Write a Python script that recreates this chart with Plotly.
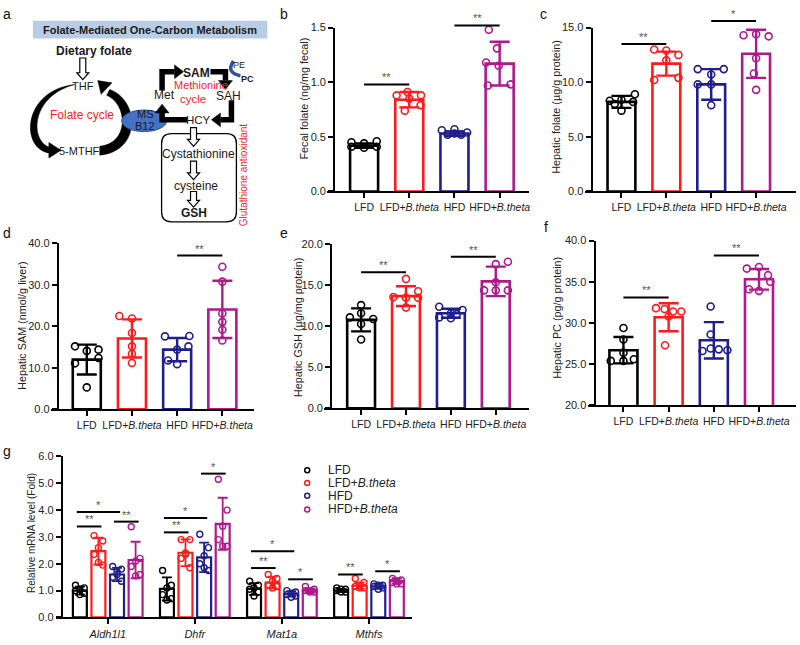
import math
import plotly.graph_objects as go

W, H = 800, 645
FONT = "Liberation Sans, Arial, Helvetica, sans-serif"
INK = "#1a1a1a"

GROUPS = ["LFD", "LFD+<i>B.theta</i>", "HFD", "HFD+<i>B.theta</i>"]
COLORS = ["#000000", "#ff1a1a", "#1e1e8c", "#b0188c"]

# ---------------- data ----------------
# b  fecal folate
FECAL_MEAN = [0.42, 0.84, 0.53, 1.17]
FECAL_SD = [0.02, 0.07, 0.02, 0.20]
FECAL_PTS = [[0.45, 0.44, 0.46, 0.41, 0.41, 0.40],
             [0.88, 0.91, 0.88, 0.85, 0.79, 0.74],
             [0.56, 0.57, 0.54, 0.52, 0.52, 0.53],
             [1.48, 1.31, 1.18, 1.15, 0.97, 0.98]]
FECAL_SIG = [(0, 1, 0.98, "**"), (2, 3, 1.52, "**")]
FECAL_TICKS = [0.0, 0.5, 1.0, 1.5]

# c  hepatic folate
HFOL_MEAN = [8.2, 11.7, 9.8, 12.6]
HFOL_SD = [0.55, 1.1, 1.4, 2.2]
HFOL_PTS = [[8.9, 8.3, 8.4, 8.2, 7.4, 8.0],
            [13.0, 12.9, 12.5, 12.0, 10.2, 10.4],
            [11.2, 11.2, 10.7, 9.8, 9.8, 7.9],
            [14.3, 14.4, 14.2, 12.2, 10.8, 9.3]]
HFOL_SIG = [(0, 1, 13.5, "**"), (2, 3, 15.6, "*")]
HFOL_TICKS = [0, 5, 10, 15]

# d  hepatic SAM
SAM_MEAN = [12.0, 17.1, 14.4, 24.1]
SAM_SD = [3.6, 4.6, 2.8, 6.9]
SAM_PTS = [[15.2, 14.1, 14.4, 11.1, 12.4, 5.3],
           [22.5, 21.9, 18.4, 15.2, 13.4, 11.2],
           [17.6, 17.7, 15.2, 14.4, 10.9, 11.8],
           [34.4, 30.8, 23.1, 21.1, 19.2, 16.6]]
SAM_SIG = [(2, 3, 37.1, "**")]
SAM_TICKS = [0, 10, 20, 30, 40]

# e  hepatic GSH
GSH_MEAN = [10.8, 13.7, 11.6, 15.5]
GSH_SD = [1.4, 1.2, 0.55, 1.8]
GSH_PTS = [[12.6, 11.6, 11.1, 10.9, 10.3, 8.4],
           [15.8, 14.3, 13.6, 13.5, 13.5, 12.3],
           [12.4, 12.0, 11.6, 11.1, 11.0, 11.5],
           [17.6, 17.9, 15.4, 14.4, 14.4, 14.4]]
GSH_SIG = [(0, 1, 16.6, "**"), (2, 3, 18.5, "**")]
GSH_TICKS = [0, 5, 10, 15, 20]

# f  hepatic PC
PC_MEAN = [26.7, 30.7, 27.9, 35.3]
PC_SD = [1.6, 1.7, 2.2, 1.25]
PC_PTS = [[29.4, 28.0, 26.4, 25.4, 25.4, 25.6],
          [31.8, 31.7, 31.4, 31.4, 30.8, 27.3],
          [32.0, 28.6, 26.6, 26.9, 26.8, 26.7],
          [36.6, 36.8, 35.8, 35.0, 33.9, 34.1]]
PC_SIG = [(0, 1, 33.1, "**"), (2, 3, 38.2, "**")]
PC_TICKS = [20, 25, 30, 35, 40]

# g  relative mRNA
GENES = ["<i>Aldh1l1</i>", "<i>Dhfr</i>", "<i>Mat1a</i>", "<i>Mthfs</i>"]
G_MEAN = [[1.00, 1.06, 1.06, 1.00],
          [2.47, 2.41, 1.30, 1.18],
          [1.60, 2.24, 0.88, 1.16],
          [2.14, 3.49, 1.00, 1.36]]
G_SD = [[0.15, 0.43, 0.22, 0.06],
        [0.50, 0.50, 0.22, 0.12],
        [0.25, 0.55, 0.10, 0.10],
        [0.68, 0.97, 0.08, 0.10]]
G_PTS = [
    [[1.20, 1.10, 1.05, 1.00, 0.90, 0.85], [1.75, 1.20, 1.10, 0.85, 0.70, 0.65],
     [1.35, 1.20, 1.10, 1.05, 0.95, 0.80], [1.10, 1.05, 1.05, 1.00, 0.95, 0.95]],
    [[3.05, 2.85, 2.60, 2.35, 1.95, 2.05], [2.90, 2.90, 2.35, 2.20, 1.85, 2.40],
     [1.60, 1.45, 1.35, 1.20, 1.15, 1.10], [1.45, 1.30, 1.20, 1.15, 1.10, 1.10]],
    [[1.90, 1.80, 1.60, 1.50, 1.35, 1.70], [3.10, 2.60, 2.30, 2.00, 1.75, 1.85],
     [1.00, 0.95, 0.90, 0.85, 0.80, 0.75], [1.25, 1.20, 1.20, 1.15, 1.10, 1.05]],
    [[3.38, 2.20, 2.10, 1.90, 1.60, 1.55], [5.15, 4.00, 3.40, 2.90, 2.65, 2.65],
     [1.15, 1.05, 1.00, 1.00, 0.95, 0.95], [1.45, 1.40, 1.35, 1.30, 1.25, 1.25]],
]
G_SIG = [(0, 0, 2, 3.93, "*"), (0, 0, 1, 3.39, "**"), (0, 2, 3, 3.57, "**"),
         (1, 0, 2, 3.71, "*"), (1, 0, 1, 3.17, "**"), (1, 2, 3, 5.36, "*"),
         (2, 0, 2, 2.47, "*"), (2, 0, 1, 1.84, "**"), (2, 2, 3, 1.42, "*"),
         (3, 0, 1, 1.60, "**"), (3, 2, 3, 1.72, "*")]
G_TICKS = [0, 1, 2, 3, 4, 5, 6]

# ---------------- layout / style ----------------
GEOM = {
    "b": dict(yx=335, xs=328, xe=530, yt=22, yb=189, c0=365, dc=45.3),
    "c": dict(yx=593, xs=586, xe=798, yt=22, yb=189, c0=623, dc=45.0),
    "d": dict(yx=58, xs=51, xe=255, yt=242, yb=411, c0=87, dc=45.3),
    "e": dict(yx=332, xs=325, xe=530, yt=243, yb=410, c0=362, dc=45.0),
    "f": dict(yx=596, xs=589, xe=798, yt=239, yb=407, c0=625, dc=45.3),
    "g": dict(yx=62, xs=56, xe=413, yt=459, yb=623, c0=108, dc=87.3),
}
JIT = {
    "b": [[-0.28, 0, 0.28, -0.28, 0.28, 0], [-0.28, -0.04, 0.26, 0, 0.25, -0.1],
          [-0.28, 0, 0.28, -0.15, 0.15, 0], [-0.24, -0.06, -0.3, -0.02, -0.26, 0.24]],
    "c": [[0.3, -0.26, 0, 0.26, 0, -0.15], [-0.27, 0, 0.27, 0, -0.27, 0.27],
          [-0.3, 0.28, 0, -0.3, 0, 0], [-0.28, 0, 0.28, 0, -0.05, 0]],
    "d": [[-0.26, 0, 0.26, -0.26, 0.26, 0], [-0.28, 0, 0, 0, 0, 0],
          [-0.27, 0.27, 0.25, 0, 0, -0.2], [0, 0, 0, 0, 0, 0]],
    "e": [[0, 0, -0.25, 0.27, 0, 0], [0, 0.27, -0.28, 0, 0.27, 0],
          [-0.26, 0.26, 0, -0.26, 0, 0.13], [0, 0.27, 0, 0, -0.26, 0.27]],
    "f": [[0, 0, 0, -0.28, 0, 0.23], [-0.28, -0.09, 0.1, 0.28, 0, -0.08],
          [-0.07, -0.07, -0.25, -0.07, 0.11, 0.3], [-0.27, 0, 0.2, 0.25, 0, -0.22]],
}
G_JIT = [-0.05, 0.05, 0.0, -0.05, 0.05, 0.0]
G_OFF = [-0.32, -0.107, 0.107, 0.32]

PANELS = [
    ("b", FECAL_MEAN, FECAL_SD, FECAL_PTS, FECAL_SIG, FECAL_TICKS, (0, 1.5),
     "Fecal folate (ng/mg fecal)", (305, 94)),
    ("c", HFOL_MEAN, HFOL_SD, HFOL_PTS, HFOL_SIG, HFOL_TICKS, (0, 15),
     "Hepatic folate (µg/g protein)", (557, 103)),
    ("d", SAM_MEAN, SAM_SD, SAM_PTS, SAM_SIG, SAM_TICKS, (0, 40),
     "Hepatic SAM (nmol/g liver)", (22, 326)),
    ("e", GSH_MEAN, GSH_SD, GSH_PTS, GSH_SIG, GSH_TICKS, (0, 20),
     "Hepatic GSH (µg/mg protein)", (299, 328)),
    ("f", PC_MEAN, PC_SD, PC_PTS, PC_SIG, PC_TICKS, (20, 40),
     "Hepatic PC (pg/g protein)", (558, 318)),
]


def P(x, y):
    return x / W, 1 - y / H


def ann(x, y, text, size=11, color=INK, xanchor="center", yanchor="middle", angle=0):
    px, py = P(x, y)
    return dict(x=px, y=py, xref="paper", yref="paper", text=text, showarrow=False,
                font=dict(family=FONT, size=size, color=color), xanchor=xanchor,
                yanchor=yanchor, textangle=angle)


def path_str(cmds):
    out = []
    for c in cmds:
        if isinstance(c, str):
            out.append(c)
        else:
            x, y = P(*c)
            out.append(f"{x:.5f},{y:.5f}")
    return " ".join(out)


def pshape(cmds, fill="rgba(0,0,0,0)", color="black", width=1.0):
    return dict(type="path", path=path_str(cmds), xref="paper", yref="paper",
                fillcolor=fill, line=dict(color=color, width=width), layer="above")


def head(tip, frm, length=9, half=7):
    dx, dy = tip[0] - frm[0], tip[1] - frm[1]
    n = math.hypot(dx, dy)
    dx, dy = dx / n, dy / n
    bx, by = tip[0] - dx * length, tip[1] - dy * length
    px, py = -dy, dx
    return ["M", tip, "L", (bx + px * half, by + py * half), "L", (bx - px * half, by - py * half), "Z"]


def hollow_down(x, y0, y1, sw=3.0, hw=6.0, hl=7.0):
    return ["M", (x - sw, y0), "L", (x + sw, y0), "L", (x + sw, y1 - hl), "L", (x + hw, y1 - hl),
            "L", (x, y1), "L", (x - hw, y1 - hl), "L", (x - sw, y1 - hl), "Z"]


fig = go.Figure()
layout = dict(width=W, height=H, margin=dict(l=0, r=0, t=0, b=0),
              paper_bgcolor="white", plot_bgcolor="rgba(0,0,0,0)",
              showlegend=False, barmode="overlay", hovermode=False,
              font=dict(family=FONT, color=INK))
shapes = []
annotations = []


def to_px(g, yr, xv, yv):
    x = g["c0"] + xv * g["dc"]
    y = g["yb"] - (yv - yr[0]) / (yr[1] - yr[0]) * (g["yb"] - g["yt"])
    return x, y


def setup_axes(n, g, yr, ticks, tickvals, ticktext, tickfont_size=10.5):
    s = "" if n == 1 else str(n)
    layout["xaxis" + s] = dict(
        domain=[g["xs"] / W, g["xe"] / W],
        range=[(g["xs"] - g["c0"]) / g["dc"], (g["xe"] - g["c0"]) / g["dc"]],
        anchor="y" + s, showline=True, linecolor="black", linewidth=2,
        ticks="outside", ticklen=5, tickwidth=2, tickcolor="black",
        tickvals=tickvals, ticktext=ticktext, showgrid=False, zeroline=False,
        tickfont=dict(family=FONT, size=tickfont_size, color="#222"), fixedrange=True)
    layout["yaxis" + s] = dict(
        domain=[1 - g["yb"] / H, 1 - g["yt"] / H], range=list(yr),
        anchor="free", position=g["yx"] / W, showline=True, linecolor="black",
        linewidth=2, ticks="outside", ticklen=5, tickwidth=2, tickcolor="black",
        tickvals=ticks, tickformat=".1f", showgrid=False, zeroline=False,
        tickfont=dict(family=FONT, size=11, color="#222"), fixedrange=True)
    return "x" + s, "y" + s


# ---------- panels b-f ----------
for n, (key, mean, sd, pts, sig, ticks, yr, title, tpos) in enumerate(PANELS, start=1):
    g = GEOM[key]
    xa, ya = setup_axes(n, g, yr, ticks, [0, 1, 2, 3], GROUPS)
    for i in range(4):
        c = COLORS[i]
        fig.add_trace(go.Bar(
            x=[i], y=[mean[i]], width=0.62, xaxis=xa, yaxis=ya,
            marker=dict(color="rgba(0,0,0,0)", line=dict(color=c, width=2.6)),
            error_y=dict(type="data", array=[sd[i]], color=c, thickness=2.4, width=10)))
        fig.add_trace(go.Scatter(
            x=[i + o for o in JIT[key][i]], y=pts[i], mode="markers", xaxis=xa, yaxis=ya,
            cliponaxis=False,
            marker=dict(symbol="circle-open", size=7, color=c, line=dict(width=1.6))))
    for a, b, yv, lab in sig:
        x0, y0 = to_px(g, yr, a, yv)
        x1, _ = to_px(g, yr, b, yv)
        shapes.append(pshape(["M", (x0, y0), "L", (x1, y0)], width=2))
        annotations.append(ann((x0 + x1) / 2, y0 + 1, lab, size=11, color="#555", yanchor="bottom"))
    annotations.append(ann(tpos[0], tpos[1], title, size=10.8, color="#222", angle=-90))

# ---------- panel g ----------
g = GEOM["g"]
xa, ya = setup_axes(6, g, (0, 6), G_TICKS, [0, 1, 2, 3], GENES, tickfont_size=11)
for i in range(4):
    c = COLORS[i]
    xs = [k + G_OFF[i] for k in range(4)]
    fig.add_trace(go.Bar(
        x=xs, y=G_MEAN[i], width=0.16, xaxis=xa, yaxis=ya,
        marker=dict(color="rgba(0,0,0,0)", line=dict(color=c, width=2.2)),
        error_y=dict(type="data", array=G_SD[i], color=c, thickness=1.8, width=5)))
    px_, py_ = [], []
    for k in range(4):
        for j, v in enumerate(G_PTS[i][k]):
            px_.append(k + G_OFF[i] + G_JIT[j])
            py_.append(v)
    fig.add_trace(go.Scatter(
        x=px_, y=py_, mode="markers", xaxis=xa, yaxis=ya, cliponaxis=False,
        marker=dict(symbol="circle-open", size=6, color=c, line=dict(width=1.4))))
for k, a, b, yv, lab in G_SIG:
    x0, y0 = to_px(g, (0, 6), k + G_OFF[a] - 0.035, yv)
    x1, _ = to_px(g, (0, 6), k + G_OFF[b] + 0.035, yv)
    shapes.append(pshape(["M", (x0, y0), "L", (x1, y0)], width=2))
    annotations.append(ann((x0 + x1) / 2, y0 + 1, lab, size=11, color="#555", yanchor="bottom"))
annotations.append(ann(31, 537, "Relative mRNA level (Fold)", size=10, color="#222", angle=-90))

# legend of g
for i, yy in enumerate([473, 486, 499, 513]):
    x0, y0 = P(305.5, yy - 2.5)
    x1, y1 = P(310.5, yy + 2.5)
    shapes.append(dict(type="circle", xref="paper", yref="paper", x0=x0, x1=x1, y0=y1, y1=y0,
                       line=dict(color=COLORS[i], width=1.5), fillcolor="rgba(0,0,0,0)"))
    annotations.append(ann(327, yy, GROUPS[i], size=12, color="#222", xanchor="left"))

# ---------- panel a (schematic) ----------
x0, y0 = P(33, 15)
x1, y1 = P(268, 33)
shapes.append(dict(type="rect", xref="paper", yref="paper", x0=x0, x1=x1, y0=y1, y1=y0,
                   fillcolor="#b8cce4", line=dict(width=0), layer="below"))
annotations.append(ann(150.5, 24, "<b>Folate-Mediated One-Carbon Metabolism</b>", size=11))
annotations.append(ann(94, 46, "<b>Dietary folate</b>", size=12))
shapes.append(pshape(hollow_down(83, 53, 75), fill="white", width=1.2))
annotations.append(ann(83, 82, "THF", size=11))
annotations.append(ann(82, 111, "Folate cycle", size=12, color="#ff1a1a"))
annotations.append(ann(80, 148, "5-MTHF", size=11))
# folate cycle arrows
shapes.append(pshape(["M", (75, 80), "C", (22, 86), (20, 146), (50, 150), "L", (50, 144),
                      "C", (30, 138), (30, 92), (75, 80), "Z"], fill="black", width=0.5))
shapes.append(pshape(["M", (49, 139), "L", (61, 147), "L", (49, 155), "Z"], fill="black", width=0.5))
shapes.append(pshape(["M", (100, 152), "C", (142, 148), (140, 96), (110, 85), "L", (107, 91),
                      "C", (128, 100), (130, 140), (100, 143), "Z"], fill="black", width=0.5))
shapes.append(pshape(head((98, 76), (112, 89), length=12, half=8), fill="black", width=0.5))
# MS B12 ellipse
ex0, ey0 = P(122, 106)
ex1, ey1 = P(167, 128)
shapes.append(dict(type="circle", xref="paper", yref="paper", x0=ex0, x1=ex1, y0=ey1, y1=ey0,
                   fillcolor="#4472c4", line=dict(color="#2f528f", width=1)))
annotations.append(ann(146, 110, "MS", size=11))
annotations.append(ann(145, 122, "B12", size=11))
# methionine cycle
for line_pts, tip, frm in [
    ([(188, 116), (162.5, 116), (162.5, 108)], (162.5, 100), (162.5, 116)),
    ([(162.5, 86), (162.5, 67), (175, 67)], (184, 67), (162.5, 67)),
    ([(211, 67), (226, 67), (226, 76)], (226, 85), (226, 67)),
    ([(232, 96), (232, 116), (221, 116)], (212, 116), (232, 116)),
]:
    cmds = ["M", line_pts[0]]
    for p in line_pts[1:]:
        cmds += ["L", p]
    shapes.append(pshape(cmds, width=5.5))
    shapes.append(pshape(head(tip, frm, length=9, half=7), fill="black", width=0.5))
annotations.append(ann(197, 68, "<b>SAM</b>", size=12))
annotations.append(ann(165, 91, "Met", size=12))
annotations.append(ann(229, 92, "SAH", size=12))
annotations.append(ann(199, 116, "HCY", size=11.5))
annotations.append(ann(202, 81, "Methionine", size=11, color="#ff1a1a"))
annotations.append(ann(193, 95, "cycle", size=11.5, color="#ff1a1a"))
shapes.append(pshape(["M", (234, 56), "Q", (226, 68), (241, 71)], color="#2e5597", width=3.5))
annotations.append(ann(240, 60, "PE", size=9))
annotations.append(ann(248, 74, "<b>PC</b>", size=9))
# glutathione box
shapes.append(pshape(["M", (172, 130), "L", (227, 130), "Q", (237, 130), (237, 140), "L", (237, 210),
                      "Q", (237, 220), (227, 220), "L", (172, 220), "Q", (162, 220), (162, 210),
                      "L", (162, 140), "Q", (162, 130), (172, 130), "Z"], width=1.3))
shapes.append(pshape(hollow_down(194, 124, 143), fill="white", width=1.2))
shapes.append(pshape(hollow_down(194, 158, 177), fill="white", width=1.2))
shapes.append(pshape(hollow_down(194, 189, 205), fill="white", width=1.2))
annotations.append(ann(199, 151, "Cystathionine", size=12))
annotations.append(ann(196, 183, "cysteine", size=12))
annotations.append(ann(194, 211, "<b>GSH</b>", size=12))
annotations.append(ann(244, 172, "Glutathione antioxidant", size=10, color="#ff1a1a", angle=-90))

# panel letters
for lab, (x, y) in {"a": (7, 8), "b": (285, 8), "c": (545, 8), "d": (7, 231),
                    "e": (285, 231), "f": (547, 225), "g": (7, 453)}.items():
    annotations.append(ann(x, y, lab, size=14, color="#111"))

layout["shapes"] = shapes
layout["annotations"] = annotations
fig.update_layout(**layout)
fig.write_html("out.html", config={"displayModeBar": False, "staticPlot": True},
               post_script="document.body.style.margin='0px';document.body.style.padding='0px';")
